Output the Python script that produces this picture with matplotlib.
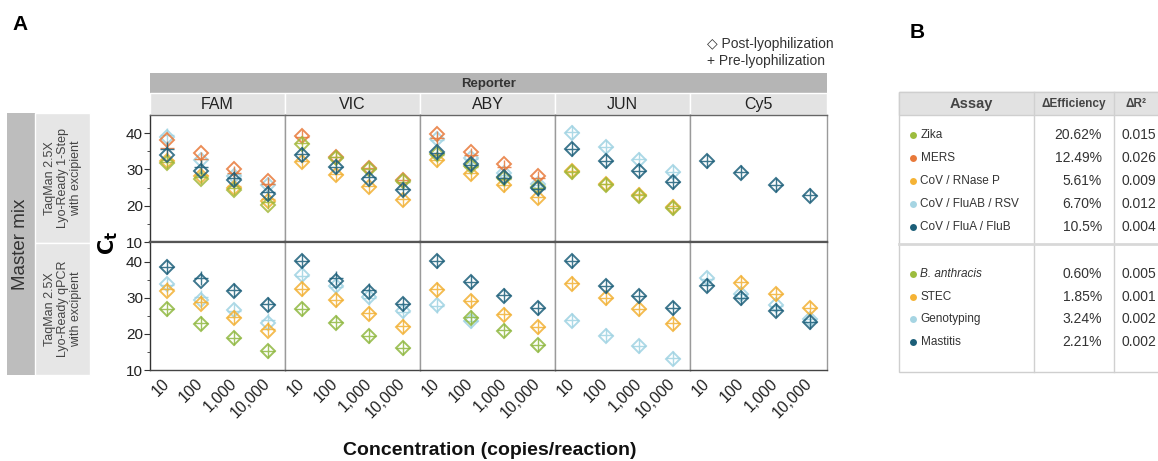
import numpy as np
import matplotlib
matplotlib.use("Agg")
import matplotlib.pyplot as plt
from matplotlib.patches import Rectangle

plt.rcParams['font.family'] = ['Liberation Sans', 'DejaVu Sans']

nan = np.nan

# ---- data -------------------------------------------------------------
reporters = ["FAM", "VIC", "ABY", "JUN", "Cy5"]
concentrations = [10, 100, 1000, 10000]
conc_labels = ["10", "100", "1,000", "10,000"]

top_assays = ["Zika", "MERS", "CoV / RNase P", "CoV / FluAB / RSV", "CoV / FluA / FluB"]
top_colors = ["#a3b83a", "#e8793a", "#f2b134", "#9fd3e2", "#1c5f7a"]
bottom_assays = ["B. anthracis", "STEC", "Genotyping", "Mastitis"]
bottom_colors = ["#8fb840", "#f2b134", "#9fd3e2", "#1c5f7a"]

# Ct values, one list per reporter (None = assay not run on that dye)
top_post = {
    "Zika":              [[31.8, 27.4, 24.2, 20.3], [37.1, 33.2, 30.2, 26.8], [34.3, 31.0, 27.6, 25.2], [29.3, 25.8, 22.8, 19.4], None],
    "MERS":              [[38.2, 34.4, 30.2, 26.9], [39.2, 33.5, 30.5, 27.2], [39.9, 34.8, 31.4, 28.1], None, None],
    "CoV / RNase P":     [[32.3, 28.3, 24.9, 21.4], [32.0, 28.6, 25.1, 21.6], [32.5, 28.8, 25.6, 22.1], [29.5, 26.0, 23.0, 19.7], None],
    "CoV / FluAB / RSV": [[38.8, 32.5, 28.3, 25.6], None, [38.5, 33.2, 28.9, 26.0], [40.1, 36.2, 32.7, 29.3], None],
    "CoV / FluA / FluB": [[33.9, 29.7, 27.1, 23.2], [33.9, 30.6, 27.4, 24.4], [34.8, 31.6, 27.9, 24.9], [35.5, 32.2, 29.5, 26.5], [32.2, 29.1, 25.7, 22.8]],
}
top_pre = {
    "Zika":              [[32.0, 28.0, 24.8, 21.0], [37.3, 33.4, 30.0, 26.6], [34.0, 30.8, 27.3, 25.0], [29.4, 25.9, 22.9, 19.5], None],
    "MERS":              [[35.8, 33.0, 29.0, 26.0], [38.8, 33.3, 30.3, 27.0], [38.6, 34.0, 30.6, 27.6], None, None],
    "CoV / RNase P":     [[32.5, 28.6, 25.3, 21.8], [32.2, 28.8, 25.3, 21.8], [32.7, 29.0, 25.8, 22.3], [29.6, 26.1, 23.1, 19.8], None],
    "CoV / FluAB / RSV": [[39.4, 33.0, 28.8, 25.9], None, [38.0, 32.8, 28.6, 25.8], [40.2, 36.3, 32.8, 29.4], None],
    "CoV / FluA / FluB": [[35.6, 30.6, 27.6, 23.8], [34.3, 30.8, 27.8, 24.7], [34.5, 31.3, 27.5, 24.6], [35.6, 32.3, 29.6, 26.6], [32.4, 29.2, 25.8, 22.9]],
}
bottom_post = {
    "B. anthracis": [[26.8, 22.8, 18.9, 15.2], [26.9, 23.1, 19.4, 16.1], [nan, 24.4, 20.9, 16.9], None, None],
    "STEC":         [[31.8, 28.3, 24.4, 20.9], [32.5, 29.3, 25.6, 22.0], [32.3, 29.0, 25.3, 21.9], [33.9, 29.9, 26.8, 22.8], [nan, 34.2, 31.1, 27.2]],
    "Genotyping":   [[33.9, 29.3, 26.7, 23.1], [36.4, 33.4, 30.2, 26.5], [27.9, 23.6, nan, nan], [23.7, 19.5, 16.6, 13.1], [35.5, 31.1, 27.9, 24.2]],
    "Mastitis":     [[38.5, 34.8, 31.8, 28.1], [40.1, 34.8, 31.6, 28.3], [40.1, 34.4, 30.6, 27.1], [40.1, 33.2, 30.5, 27.1], [33.4, 29.9, 26.5, 23.3]],
}
bottom_pre = {
    "B. anthracis": [[26.9, 22.9, 19.0, 15.3], [27.0, 23.2, 19.5, 16.2], [nan, 24.6, 21.1, 17.0], None, None],
    "STEC":         [[32.4, 28.8, 24.8, 21.5], [32.6, 29.4, 25.7, 22.1], [32.4, 29.1, 25.4, 22.0], [34.0, 30.0, 26.9, 22.9], [nan, 34.3, 31.2, 27.3]],
    "Genotyping":   [[33.5, 30.2, 26.3, 23.9], [36.0, 33.0, 30.0, 26.2], [27.8, 23.5, nan, nan], [23.8, 19.6, 16.7, 13.2], [35.3, 31.0, 27.8, 24.1]],
    "Mastitis":     [[38.6, 35.4, 32.1, 28.2], [40.2, 35.6, 32.3, 28.4], [40.2, 34.5, 30.7, 27.2], [40.2, 33.3, 30.6, 27.2], [33.5, 30.0, 26.6, 23.4]],
}

# table values
table_top = ["Zika", "MERS", "CoV / RNase P", "CoV / FluAB / RSV", "CoV / FluA / FluB"]
table_top_colors = ["#9dbd3e", "#e8793a", "#f5b335", "#a6d5e3", "#1b5e78"]
table_top_eff = ["20.62%", "12.49%", "5.61%", "6.70%", "10.5%"]
table_top_r2 = ["0.015", "0.026", "0.009", "0.012", "0.004"]
table_bot = ["B. anthracis", "STEC", "Genotyping", "Mastitis"]
table_bot_colors = ["#9dbd3e", "#f5b335", "#a6d5e3", "#1b5e78"]
table_bot_eff = ["0.60%", "1.85%", "3.24%", "2.21%"]
table_bot_r2 = ["0.005", "0.001", "0.002", "0.002"]

# ---- layout (pixels) --------------------------------------------------
W, H = 1158, 461
col_edges = [150, 285, 420, 555, 690, 827]
row_edges = [115, 242, 370]


def box(x0, y0, x1, y1):
    return [x0 / W, 1 - y1 / H, (x1 - x0) / W, (y1 - y0) / H]


fig = plt.figure(figsize=(W / 100, H / 100), dpi=100)

# overlay for strips, labels and table
ov = fig.add_axes([0, 0, 1, 1])
ov.set_xlim(0, W)
ov.set_ylim(H, 0)
ov.axis("off")

# reporter strips
ov.add_patch(Rectangle((col_edges[0], 73), col_edges[-1] - col_edges[0], 20, fc="#b5b5b5", ec="none"))
ov.text((col_edges[0] + col_edges[-1]) / 2, 83.5, "Reporter", ha="center", va="center",
        fontsize=9.5, fontweight="bold", color="#333333")
for i, rep in enumerate(reporters):
    x0, x1 = col_edges[i], col_edges[i + 1]
    ov.add_patch(Rectangle((x0, 93), x1 - x0, 22, fc="#e3e3e3", ec="white", lw=1))
    ov.text((x0 + x1) / 2, 104.5, rep, ha="center", va="center", fontsize=11.5, color="#222222")

# master mix strips
ov.add_patch(Rectangle((7, 113), 28, 262, fc="#bdbdbd", ec="none"))
ov.text(21, 244, "Master mix", rotation=90, ha="center", va="center", fontsize=13.5, color="#333333")
ov.add_patch(Rectangle((35, 113), 55, 130, fc="#e6e6e6", ec="white", lw=1))
ov.add_patch(Rectangle((35, 243), 55, 132, fc="#e6e6e6", ec="white", lw=1))
ov.text(63, 178, "TaqMan 2.5X\nLyo-Ready 1-Step\nwith excipient", rotation=90, ha="center",
        va="center", fontsize=9, color="#444444", linespacing=1.15)
ov.text(63, 309, "TaqMan 2.5X\nLyo-Ready qPCR\nwith excipient", rotation=90, ha="center",
        va="center", fontsize=9, color="#444444", linespacing=1.15)

# panel letters, axis labels, marker key
ov.text(12, 25, "A", fontsize=15, fontweight="bold", va="center")
ov.text(910, 32, "B", fontsize=15, fontweight="bold", va="center")
ov.text(108, 243, r"$\mathbf{C_t}$", rotation=90, ha="center", va="center", fontsize=15)
ov.text(490, 450, "Concentration (copies/reaction)", ha="center", va="center",
        fontsize=14, fontweight="bold", color="#111111")
ov.text(707, 44, "\u25c7 Post-lyophilization", ha="left", va="center", fontsize=10, color="#333333")
ov.text(707, 61, "+ Pre-lyophilization", ha="left", va="center", fontsize=10, color="#333333")

# ---- scatter panels ---------------------------------------------------
xpos = np.arange(1, len(concentrations) + 1)
rows = [
    (top_assays, top_colors, top_post, top_pre, [3, 1, 2, 0, 4]),
    (bottom_assays, bottom_colors, bottom_post, bottom_pre, [2, 1, 0, 3]),
]
for r, (assays, colors, post, pre, order) in enumerate(rows):
    for c in range(len(reporters)):
        ax = fig.add_axes(box(col_edges[c], row_edges[r], col_edges[c + 1], row_edges[r + 1]))
        for k in order:
            name = assays[k]
            if post[name][c] is None:
                continue
            ax.plot(xpos, post[name][c], ls="none", marker="D", ms=7.4, mfc="none",
                    mec=colors[k], mew=1.4, alpha=0.85)
            ax.plot(xpos, pre[name][c], ls="none", marker="+", ms=10, mew=1.0,
                    color=colors[k], alpha=0.85)
        ax.set_xlim(0.5, 4.5)
        ax.set_ylim(10, 45.5 if r == 1 else 45)
        for s in ax.spines.values():
            s.set_color("#9a9a9a")
            s.set_linewidth(1)
        if r == 0:
            ax.spines["top"].set_color("#666666")
            ax.spines["bottom"].set_color("#555555")
            ax.spines["bottom"].set_linewidth(1.6)
        else:
            ax.spines["top"].set_color("#555555")
            ax.spines["top"].set_linewidth(1.6)
            ax.spines["bottom"].set_color("#444444")
        if c == 0:
            ax.spines["left"].set_color("#333333")
            ax.set_yticks([10, 20, 30, 40])
            ax.set_yticks([15, 25, 35], minor=True)
            ax.tick_params(axis="y", which="major", length=4, labelsize=11,
                           labelcolor="#222222", color="#333333", pad=1)
            ax.tick_params(axis="y", which="minor", length=2.5, color="#333333")
        else:
            ax.set_yticks([])
        ax.set_xticks(xpos)
        if r == 1:
            ax.set_xticklabels(conc_labels, rotation=45, ha="right", va="center",
                               rotation_mode="anchor", fontsize=11.5, color="#222222")
            ax.tick_params(axis="x", length=0, pad=8)
        else:
            ax.set_xticklabels([])
            ax.tick_params(axis="x", length=0)

# ---- table B ----------------------------------------------------------
tx0, tx1, ty0, ty1 = 899, 1160, 92, 372
ov.add_patch(Rectangle((tx0, ty0), tx1 - tx0, ty1 - ty0, fc="white", ec="#cfcfcf", lw=1))
ov.add_patch(Rectangle((tx0, ty0), tx1 - tx0, 23, fc="#e2e2e2", ec="#cfcfcf", lw=1))
for xv in [1034, 1114]:
    ov.plot([xv, xv], [ty0, ty1], color="#d0d0d0", lw=1)
ov.plot([tx0, tx1], [244, 244], color="#d8d8d8", lw=2)
ov.text(971, 103.5, "Assay", ha="center", va="center", fontsize=10.5, fontweight="bold", color="#444444")
ov.text(1074, 104, "\u0394Efficiency", ha="center", va="center", fontsize=8.5, fontweight="bold", color="#444444")
ov.text(1136, 104, "\u0394R\u00b2", ha="center", va="center", fontsize=8.5, fontweight="bold", color="#444444")

groups = [
    (table_top, table_top_colors, table_top_eff, table_top_r2, 135, 23),
    (table_bot, table_bot_colors, table_bot_eff, table_bot_r2, 274, 22.6),
]
for names, cols, effs, r2s, y_start, step in groups:
    for i, name in enumerate(names):
        yy = y_start + i * step
        ov.plot(912.5, yy, "o", ms=5, color=cols[i], mec="none")
        ov.text(920.5, yy, name, ha="left", va="center", fontsize=8.5, color="#333333",
                fontstyle="italic" if name == "B. anthracis" else "normal")
        ov.text(1102, yy, effs[i], ha="right", va="center", fontsize=10, color="#333333")
        ov.text(1121, yy, r2s[i], ha="left", va="center", fontsize=10, color="#333333")

fig.savefig("out.png", dpi=100)
